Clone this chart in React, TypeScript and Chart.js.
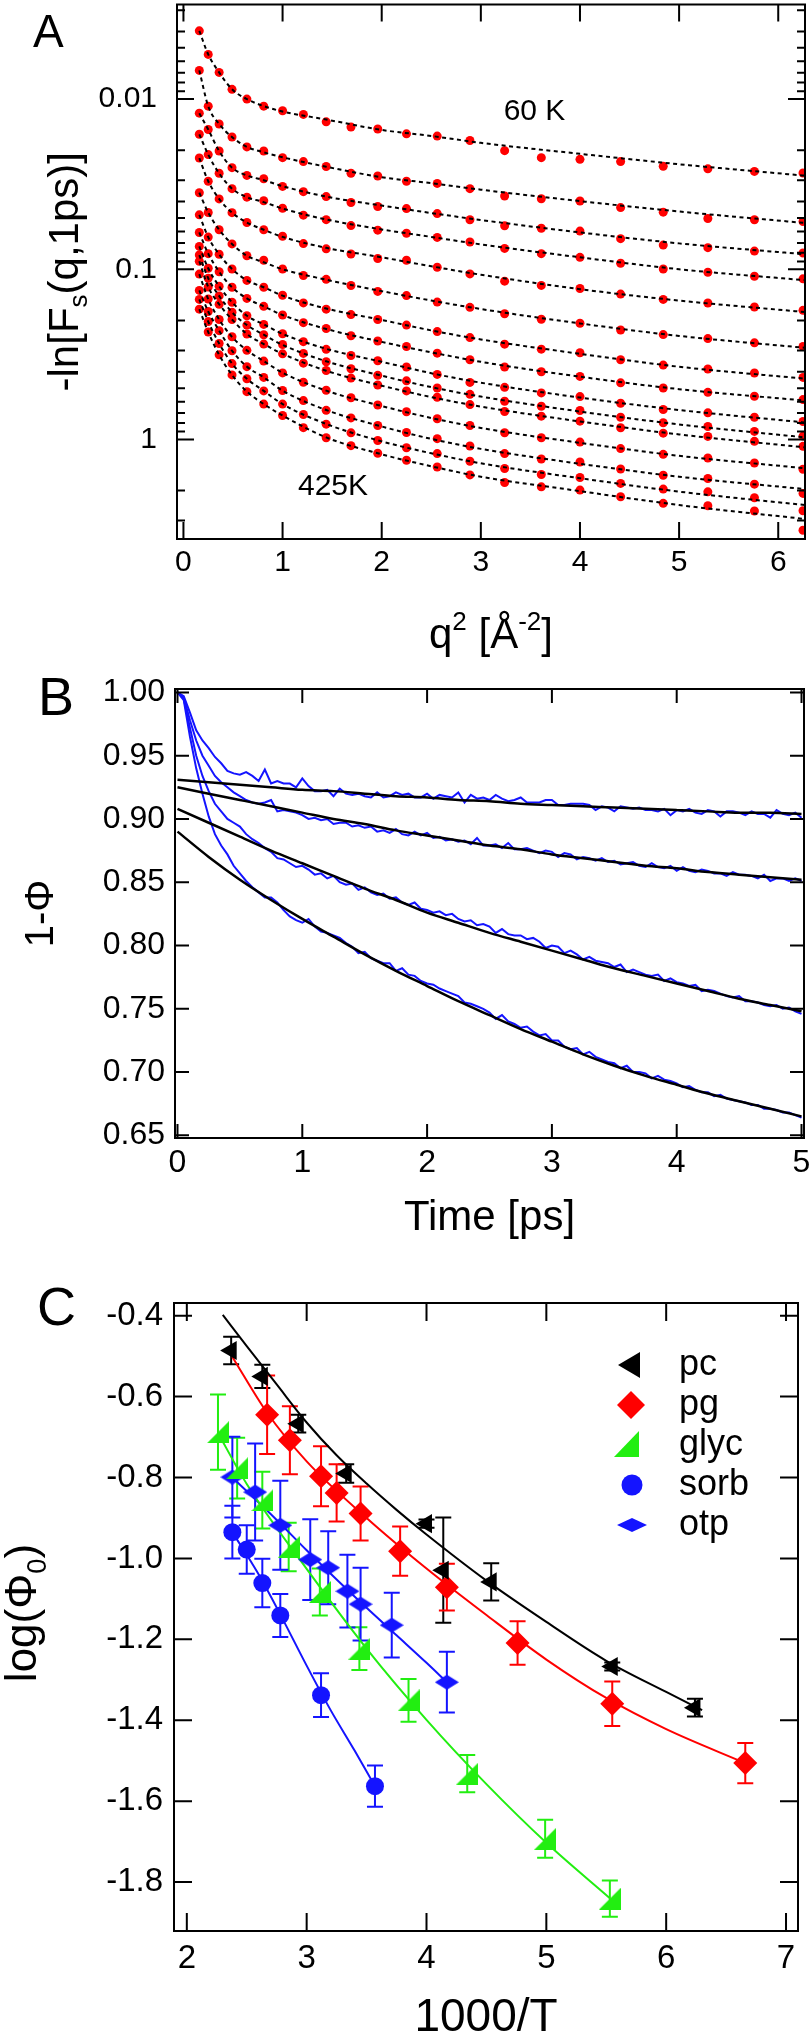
import React, { useEffect, useRef } from 'react';
import { Chart, registerables } from 'chart.js';

Chart.register(...registerables);

const FONT = '"Liberation Sans", Arial, Helvetica, sans-serif';
const RED = '#ff0000';
const BLUE = '#1414ff';
const GREEN = '#22ee11';

// ---------------- Panel A : -ln[Fs(q,1ps)] vs q^2 (measured points) ----------------
const A_Q2 = [0.16, 0.25, 0.36, 0.49, 0.64, 0.81, 1.0, 1.21, 1.44, 1.69, 1.96, 2.25, 2.56, 2.89, 3.24, 3.61, 4.0, 4.41, 4.84, 5.29, 5.76, 6.25];
const A_60K = [0.00397, 0.00546, 0.00697, 0.00876, 0.0100, 0.0110, 0.0117, 0.0123, 0.0136, 0.0146, 0.0150, 0.0160, 0.0165, 0.0175, 0.0201, 0.0221, 0.0226, 0.0233, 0.0248, 0.0257, 0.0266, 0.0272];
const A_T2 = [0.00678, 0.0110, 0.0140, 0.0167, 0.0191, 0.0202, 0.0221, 0.0233, 0.0249, 0.0273, 0.0283, 0.0304, 0.0313, 0.0336, 0.0371, 0.0385, 0.0397, 0.0434, 0.0462, 0.0503, 0.0512, 0.0524];
const A_T3 = [0.0121, 0.0151, 0.0202, 0.0253, 0.0281, 0.0294, 0.0326, 0.0350, 0.0374, 0.0405, 0.0428, 0.0440, 0.0471, 0.0512, 0.0555, 0.0574, 0.0597, 0.0661, 0.0721, 0.0747, 0.0782, 0.0803];
const A_T4 = [0.0161, 0.0212, 0.0273, 0.0336, 0.0377, 0.0396, 0.0438, 0.0481, 0.0511, 0.0554, 0.0589, 0.0614, 0.0650, 0.0692, 0.0754, 0.0810, 0.0851, 0.0922, 0.0996, 0.1041, 0.1099, 0.1139];
const A_T5 = [0.0222, 0.0304, 0.0386, 0.0465, 0.0531, 0.0586, 0.0640, 0.0707, 0.0759, 0.0814, 0.0865, 0.0886, 0.0973, 0.1065, 0.1175, 0.1245, 0.1297, 0.1400, 0.1504, 0.1580, 0.1668, 0.1744];
const A_T6 = [0.0355, 0.0464, 0.0586, 0.0710, 0.0833, 0.0886, 0.0996, 0.1089, 0.1146, 0.1247, 0.1350, 0.1429, 0.1560, 0.1675, 0.1826, 0.1969, 0.2077, 0.2274, 0.2422, 0.2556, 0.2708, 0.2847];
const A_T7 = [0.0479, 0.0647, 0.0817, 0.0996, 0.1163, 0.1276, 0.1421, 0.1577, 0.1716, 0.1848, 0.1974, 0.2129, 0.2326, 0.2522, 0.2757, 0.2949, 0.3098, 0.3406, 0.3658, 0.3860, 0.4073, 0.4322];
const A_T8 = [0.0608, 0.0810, 0.1034, 0.1276, 0.1484, 0.1652, 0.1858, 0.2061, 0.2231, 0.2461, 0.2640, 0.2847, 0.3112, 0.3406, 0.3757, 0.4002, 0.4264, 0.4653, 0.4985, 0.5289, 0.5581, 0.5835];
const A_T9 = [0.0734, 0.0987, 0.1259, 0.1562, 0.1876, 0.2109, 0.2393, 0.2665, 0.2957, 0.3214, 0.3451, 0.3752, 0.4151, 0.4624, 0.4945, 0.5332, 0.5603, 0.6133, 0.6677, 0.6981, 0.7406, 0.7847];
const A_T10 = [0.0825, 0.1130, 0.1435, 0.1789, 0.2129, 0.2426, 0.2768, 0.3124, 0.3499, 0.3845, 0.4202, 0.4530, 0.4985, 0.5434, 0.5970, 0.6387, 0.6767, 0.7406, 0.7986, 0.8395, 0.8979, 0.9565];
const A_T11 = [0.0898, 0.1271, 0.1606, 0.1974, 0.2403, 0.2753, 0.3141, 0.3565, 0.3934, 0.4363, 0.4787, 0.5190, 0.5656, 0.6242, 0.6860, 0.7306, 0.7816, 0.8543, 0.9188, 0.9604, 1.027, 1.099];
const A_T12 = [0.1068, 0.1497, 0.1974, 0.2495, 0.2997, 0.3466, 0.4068, 0.4617, 0.5141, 0.5695, 0.6284, 0.6877, 0.7566, 0.8281, 0.9137, 0.9774, 1.037, 1.133, 1.224, 1.286, 1.376, 1.497];
const A_T13 = [0.1332, 0.1772, 0.2295, 0.3013, 0.3736, 0.4322, 0.5163, 0.5914, 0.6748, 0.7476, 0.8293, 0.9112, 0.9906, 1.094, 1.212, 1.304, 1.357, 1.492, 1.624, 1.698, 1.833, 2.077];
const A_T14 = [0.1504, 0.2031, 0.2731, 0.3585, 0.4404, 0.5190, 0.6200, 0.7142, 0.8138, 0.9150, 1.015, 1.120, 1.212, 1.345, 1.484, 1.608, 1.675, 1.815, 1.960, 2.033, 2.204, 2.626];
const A_425K = [0.1716, 0.2339, 0.3184, 0.4180, 0.5240, 0.6200, 0.7238, 0.8531, 0.9774, 1.089, 1.207, 1.327, 1.452, 1.617, 1.792, 1.900, 1.987, 2.175, 2.377, 2.455, 2.637, 3.420];

// Panel A dashed fit curves
const A_FIT_Q2 = [0.16, 0.25, 0.36, 0.49, 0.64, 0.81, 1.0, 1.44, 2.0, 2.5, 3.0, 4.0, 5.0, 6.27];
const A_FIT_60K = [0.00397, 0.00546, 0.00697, 0.00876, 0.0100, 0.0110, 0.01183, 0.01318, 0.01518, 0.01646, 0.01808, 0.02097, 0.02415, 0.0282];
const A_FIT_T2 = [0.00678, 0.0110, 0.0140, 0.0167, 0.0191, 0.02055, 0.02198, 0.02499, 0.02878, 0.0312, 0.03406, 0.03977, 0.04579, 0.05347];
const A_FIT_T3 = [0.0121, 0.0151, 0.0202, 0.0253, 0.0281, 0.02997, 0.03249, 0.03742, 0.04224, 0.04674, 0.05134, 0.06076, 0.07047, 0.08172];
const A_FIT_T4 = [0.0161, 0.0212, 0.0273, 0.0336, 0.0377, 0.0403, 0.04398, 0.0510, 0.05835, 0.06456, 0.07142, 0.0851, 0.1000, 0.1160];
const A_FIT_T5 = [0.0222, 0.0304, 0.0386, 0.0465, 0.0531, 0.0586, 0.06456, 0.07486, 0.0851, 0.09605, 0.1077, 0.1309, 0.1528, 0.1785];
const A_FIT_T6 = [0.0355, 0.0464, 0.0586, 0.0710, 0.0833, 0.0910, 0.1000, 0.1152, 0.1345, 0.1528, 0.1713, 0.2083, 0.2465, 0.2897];
const A_FIT_T7 = [0.0479, 0.0647, 0.0817, 0.0996, 0.1163, 0.1276, 0.1429, 0.1702, 0.1987, 0.2289, 0.2584, 0.3141, 0.3742, 0.4398];
const A_FIT_T8 = [0.0608, 0.0810, 0.1034, 0.1276, 0.1484, 0.1652, 0.1858, 0.2243, 0.2673, 0.3078, 0.3499, 0.4281, 0.5066, 0.5914];
const A_FIT_T9 = [0.0734, 0.0987, 0.1259, 0.1562, 0.1876, 0.2109, 0.2399, 0.2936, 0.3499, 0.4084, 0.4642, 0.5679, 0.6722, 0.7954];
const A_FIT_T10 = [0.0825, 0.1130, 0.1435, 0.1789, 0.2129, 0.2426, 0.2783, 0.3475, 0.4224, 0.4932, 0.5603, 0.6860, 0.8172, 0.9734];
const A_FIT_T11 = [0.0898, 0.1271, 0.1606, 0.1974, 0.2403, 0.2753, 0.3141, 0.3950, 0.4833, 0.5642, 0.6412, 0.7847, 0.9350, 1.114];
const A_FIT_T12 = [0.1068, 0.1497, 0.1974, 0.2495, 0.2997, 0.3466, 0.4057, 0.5170, 0.6370, 0.7486, 0.8565, 1.048, 1.249, 1.478];
const A_FIT_T13 = [0.1332, 0.1772, 0.2295, 0.3013, 0.3736, 0.4322, 0.5170, 0.6722, 0.8395, 0.9933, 1.137, 1.391, 1.657, 1.960];
const A_FIT_T14 = [0.1504, 0.2031, 0.2731, 0.3585, 0.4404, 0.5190, 0.6200, 0.8118, 1.027, 1.207, 1.382, 1.691, 2.028, 2.432];
const A_FIT_425K = [0.1716, 0.2339, 0.3184, 0.4180, 0.5240, 0.6200, 0.7238, 0.9734, 1.224, 1.439, 1.657, 2.014, 2.432, 2.936];

const A_XTICKS = [0, 1, 2, 3, 4, 5, 6];
const A_YTICKS = [0.01, 0.1, 1];
const A_YMINOR = [0.003, 0.004, 0.005, 0.006, 0.007, 0.008, 0.009, 0.02, 0.03, 0.04, 0.05, 0.06, 0.07, 0.08, 0.09, 0.2, 0.3, 0.4, 0.5, 0.6, 0.7, 0.8, 0.9, 2, 3];

// ---------------- Panel B : 1-Phi vs time ----------------
const B_TIME = [0, 0.05, 0.1, 0.15, 0.2, 0.25, 0.3, 0.35, 0.4, 0.45, 0.5, 0.55, 0.6, 0.65, 0.7, 0.75, 0.8, 0.85, 0.9, 0.95,
  1, 1.05, 1.1, 1.15, 1.2, 1.25, 1.3, 1.35, 1.4, 1.45, 1.5, 1.55, 1.6, 1.65, 1.7, 1.75, 1.8, 1.85, 1.9, 1.95,
  2, 2.05, 2.1, 2.15, 2.2, 2.25, 2.3, 2.35, 2.4, 2.45, 2.5, 2.55, 2.6, 2.65, 2.7, 2.75, 2.8, 2.85, 2.9, 2.95,
  3, 3.05, 3.1, 3.15, 3.2, 3.25, 3.3, 3.35, 3.4, 3.45, 3.5, 3.55, 3.6, 3.65, 3.7, 3.75, 3.8, 3.85, 3.9, 3.95,
  4, 4.05, 4.1, 4.15, 4.2, 4.25, 4.3, 4.35, 4.4, 4.45, 4.5, 4.55, 4.6, 4.65, 4.7, 4.75, 4.8, 4.85, 4.9, 4.95, 5];
const B_SIM1 = [1.000, 0.997, 0.984, 0.970, 0.962, 0.956, 0.949, 0.944, 0.938, 0.936, 0.935, 0.937, 0.934, 0.930, 0.939, 0.928, 0.930, 0.928, 0.928, 0.925,
  0.932, 0.926, 0.922, 0.922, 0.923, 0.918, 0.924, 0.920, 0.919, 0.920, 0.918, 0.917, 0.921, 0.917, 0.918, 0.921, 0.919, 0.920, 0.917, 0.917,
  0.920, 0.916, 0.919, 0.918, 0.917, 0.921, 0.913, 0.919, 0.916, 0.917, 0.915, 0.919, 0.916, 0.914, 0.915, 0.917, 0.913, 0.913, 0.913, 0.915,
  0.915, 0.911, 0.911, 0.912, 0.912, 0.912, 0.911, 0.907, 0.910, 0.909, 0.906, 0.910, 0.909, 0.908, 0.909, 0.907, 0.907, 0.906, 0.908, 0.903,
  0.907, 0.906, 0.908, 0.905, 0.904, 0.907, 0.906, 0.902, 0.906, 0.906, 0.905, 0.903, 0.906, 0.904, 0.904, 0.901, 0.907, 0.904, 0.903, 0.905, 0.901];
const B_SIM2 = [1.000, 0.996, 0.978, 0.962, 0.950, 0.942, 0.934, 0.929, 0.925, 0.921, 0.918, 0.915, 0.913, 0.912, 0.913, 0.915, 0.906, 0.907, 0.906, 0.905,
  0.903, 0.900, 0.901, 0.899, 0.900, 0.896, 0.897, 0.897, 0.894, 0.895, 0.893, 0.894, 0.890, 0.891, 0.889, 0.892, 0.888, 0.887, 0.890, 0.887,
  0.889, 0.885, 0.886, 0.883, 0.884, 0.882, 0.883, 0.880, 0.885, 0.879, 0.879, 0.880, 0.877, 0.881, 0.876, 0.876, 0.877, 0.875, 0.873, 0.875,
  0.874, 0.870, 0.873, 0.872, 0.868, 0.870, 0.869, 0.867, 0.869, 0.866, 0.867, 0.864, 0.865, 0.866, 0.863, 0.862, 0.865, 0.862, 0.861, 0.863,
  0.859, 0.862, 0.859, 0.858, 0.860, 0.859, 0.857, 0.857, 0.855, 0.858, 0.856, 0.856, 0.855, 0.853, 0.856, 0.851, 0.853, 0.853, 0.851, 0.853, 0.851];
const B_SIM3 = [1.000, 0.995, 0.972, 0.950, 0.934, 0.922, 0.912, 0.906, 0.900, 0.897, 0.894, 0.888, 0.884, 0.881, 0.877, 0.874, 0.869, 0.868, 0.865, 0.862,
  0.863, 0.860, 0.856, 0.857, 0.853, 0.855, 0.850, 0.848, 0.849, 0.844, 0.846, 0.842, 0.840, 0.841, 0.837, 0.838, 0.834, 0.832, 0.834, 0.829,
  0.828, 0.826, 0.827, 0.824, 0.825, 0.821, 0.819, 0.820, 0.816, 0.817, 0.815, 0.810, 0.813, 0.809, 0.808, 0.808, 0.805, 0.806, 0.803, 0.798,
  0.800, 0.799, 0.794, 0.796, 0.793, 0.789, 0.791, 0.788, 0.787, 0.786, 0.783, 0.785, 0.779, 0.781, 0.779, 0.777, 0.776, 0.777, 0.772, 0.774,
  0.771, 0.770, 0.768, 0.769, 0.764, 0.765, 0.764, 0.762, 0.760, 0.759, 0.760, 0.756, 0.756, 0.755, 0.753, 0.752, 0.753, 0.750, 0.751, 0.748, 0.746];
const B_SIM4 = [1.000, 0.994, 0.965, 0.940, 0.920, 0.902, 0.888, 0.879, 0.872, 0.863, 0.857, 0.851, 0.846, 0.842, 0.838, 0.838, 0.834, 0.828, 0.823, 0.820,
  0.818, 0.821, 0.815, 0.811, 0.810, 0.808, 0.806, 0.802, 0.799, 0.794, 0.795, 0.790, 0.788, 0.786, 0.786, 0.780, 0.782, 0.777, 0.776, 0.772,
  0.770, 0.769, 0.766, 0.764, 0.762, 0.760, 0.755, 0.754, 0.752, 0.750, 0.747, 0.742, 0.745, 0.740, 0.738, 0.735, 0.736, 0.732, 0.729, 0.730,
  0.725, 0.725, 0.720, 0.718, 0.719, 0.714, 0.716, 0.712, 0.710, 0.708, 0.707, 0.703, 0.705, 0.700, 0.700, 0.699, 0.695, 0.697, 0.694, 0.693,
  0.691, 0.688, 0.689, 0.686, 0.684, 0.684, 0.681, 0.682, 0.679, 0.678, 0.677, 0.676, 0.674, 0.674, 0.671, 0.671, 0.670, 0.668, 0.668, 0.666, 0.664];
const B_FIT_T = [0, 0.25, 0.5, 0.75, 1, 1.25, 1.5, 1.75, 2, 2.25, 2.5, 2.75, 3, 3.25, 3.5, 3.75, 4, 4.25, 4.5, 4.75, 5];
const B_FIT1 = [0.931, 0.929, 0.927, 0.925, 0.923, 0.922, 0.920, 0.918, 0.917, 0.915, 0.914, 0.912, 0.911, 0.910, 0.909, 0.908, 0.907, 0.906, 0.905, 0.905, 0.904];
const B_FIT2 = [0.925, 0.920, 0.915, 0.910, 0.905, 0.900, 0.896, 0.891, 0.887, 0.883, 0.879, 0.876, 0.872, 0.869, 0.866, 0.863, 0.861, 0.858, 0.856, 0.854, 0.852];
const B_FIT3 = [0.908, 0.897, 0.886, 0.875, 0.865, 0.855, 0.845, 0.836, 0.826, 0.818, 0.810, 0.803, 0.796, 0.789, 0.782, 0.776, 0.770, 0.764, 0.758, 0.753, 0.748];
const B_FIT4 = [0.890, 0.870, 0.852, 0.836, 0.821, 0.807, 0.793, 0.780, 0.768, 0.756, 0.745, 0.734, 0.724, 0.714, 0.705, 0.697, 0.690, 0.683, 0.677, 0.671, 0.665];
const B_XTICKS = [0, 1, 2, 3, 4, 5];
const B_YTICKS = [0.65, 0.70, 0.75, 0.80, 0.85, 0.90, 0.95, 1.00];

// ---------------- Panel C : log(Phi0) vs 1000/T ----------------
const PC_X = [2.37, 2.63, 2.93, 3.33, 4.00, 4.14, 4.54, 5.55, 6.24];
const PC_Y = [-0.486, -0.550, -0.667, -0.790, -0.914, -1.029, -1.058, -1.267, -1.369];
const PC_ERR = [0.034, 0.029, 0.022, 0.023, 0.010, 0.130, 0.046, 0.010, 0.022];
const PC_FIT_X = [2.30, 2.50, 2.75, 3.00, 3.25, 3.50, 3.75, 4.00, 4.50, 5.00, 5.50, 6.00, 6.30];
const PC_FIT_Y = [-0.398, -0.475, -0.570, -0.664, -0.745, -0.815, -0.880, -0.941, -1.055, -1.157, -1.253, -1.330, -1.375];

const PG_X = [2.67, 2.86, 3.12, 3.25, 3.45, 3.78, 4.17, 4.76, 5.55, 6.66];
const PG_Y = [-0.645, -0.708, -0.797, -0.838, -0.889, -0.982, -1.071, -1.209, -1.359, -1.506];
const PG_ERR = [0.097, 0.084, 0.074, 0.071, 0.067, 0.061, 0.058, 0.054, 0.055, 0.050];
const PG_FIT_X = [2.38, 2.67, 3.00, 3.50, 4.00, 4.50, 5.00, 5.50, 6.00, 6.66];
const PG_FIT_Y = [-0.502, -0.640, -0.760, -0.900, -1.025, -1.140, -1.250, -1.345, -1.422, -1.506];

const GLYC_X = [2.26, 2.42, 2.63, 2.85, 3.11, 3.44, 3.85, 4.34, 4.99, 5.53];
const GLYC_Y = [-0.688, -0.777, -0.856, -0.972, -1.083, -1.223, -1.351, -1.532, -1.693, -1.841];
const GLYC_ERR = [0.093, 0.075, 0.070, 0.060, 0.058, 0.053, 0.053, 0.046, 0.047, 0.045];
const GLYC_FIT_X = [2.26, 2.50, 3.00, 3.50, 4.00, 4.50, 5.00, 5.53];
const GLYC_FIT_Y = [-0.690, -0.816, -1.026, -1.223, -1.399, -1.558, -1.703, -1.840];

const SORB_X = [2.38, 2.50, 2.63, 2.78, 3.12, 3.57];
const SORB_Y = [-0.935, -0.978, -1.061, -1.141, -1.338, -1.563];
const SORB_ERR = [0.065, 0.060, 0.060, 0.053, 0.054, 0.051];
const SORB_FIT_X = [2.38, 2.60, 2.80, 3.00, 3.20, 3.40, 3.57];
const SORB_FIT_Y = [-0.935, -1.040, -1.150, -1.265, -1.375, -1.475, -1.563];

const OTP_X = [2.38, 2.57, 2.78, 3.03, 3.18, 3.34, 3.45, 3.71, 4.17];
const OTP_Y = [-0.799, -0.836, -0.918, -1.003, -1.023, -1.081, -1.113, -1.165, -1.306];
const OTP_ERR = [0.100, 0.120, 0.110, 0.100, 0.090, 0.090, 0.090, 0.080, 0.075];
const OTP_FIT_X = [2.38, 2.75, 3.00, 3.25, 3.50, 3.75, 4.00, 4.17];
const OTP_FIT_Y = [-0.800, -0.905, -0.980, -1.052, -1.122, -1.190, -1.258, -1.306];

const C_XTICKS = [2, 3, 4, 5, 6, 7];
const C_YTICKS = [-1.8, -1.6, -1.4, -1.2, -1.0, -0.8, -0.6, -0.4];
const C_LEGEND = ['pc', 'pg', 'glyc', 'sorb', 'otp'];

// ---------------- helpers ----------------
type Seg = { t: string; sub?: boolean; sup?: boolean };

function drawRich(ctx: CanvasRenderingContext2D, segs: Seg[], size: number, x: number, y: number, align: 'left' | 'center' = 'center', rot = 0) {
  ctx.save();
  ctx.translate(x, y);
  if (rot) ctx.rotate(rot);
  ctx.fillStyle = '#000';
  ctx.textAlign = 'left';
  ctx.textBaseline = 'alphabetic';
  const sizes = segs.map((s) => (s.sub || s.sup ? size * 0.62 : size));
  const widths = segs.map((s, i) => {
    ctx.font = `${sizes[i]}px ${FONT}`;
    return ctx.measureText(s.t).width;
  });
  const total = widths.reduce((a, b) => a + b, 0);
  let cx = align === 'center' ? -total / 2 : 0;
  segs.forEach((s, i) => {
    ctx.font = `${sizes[i]}px ${FONT}`;
    const dy = s.sub ? size * 0.22 : s.sup ? -size * 0.42 : 0;
    ctx.fillText(s.t, cx, dy);
    cx += widths[i];
  });
  ctx.restore();
}

function drawLetter(ctx: CanvasRenderingContext2D, t: string, x: number, y: number, size: number) {
  ctx.save();
  ctx.fillStyle = '#000';
  ctx.font = `${size}px ${FONT}`;
  ctx.textAlign = 'left';
  ctx.textBaseline = 'alphabetic';
  ctx.fillText(t, x, y);
  ctx.restore();
}

type FrameSpec = {
  xMajor: number[];
  yMajor: number[];
  yMinor?: number[];
  len: number;
  minorLen?: number;
  before?: (c: any) => void;
  extra?: (c: any) => void;
};

function framePlugin(id: string, spec: FrameSpec) {
  return {
    id,
    beforeDatasetsDraw(chart: any) {
      if (spec.before) spec.before(chart);
    },
    afterDraw(chart: any) {
      const ctx = chart.ctx as CanvasRenderingContext2D;
      const a = chart.chartArea;
      const xs = chart.scales.x;
      const ys = chart.scales.y;
      ctx.save();
      ctx.strokeStyle = '#000';
      ctx.lineWidth = 2;
      ctx.beginPath();
      spec.xMajor.forEach((v) => {
        const p = xs.getPixelForValue(v);
        ctx.moveTo(p, a.bottom);
        ctx.lineTo(p, a.bottom - spec.len);
        ctx.moveTo(p, a.top);
        ctx.lineTo(p, a.top + spec.len);
      });
      const yt = (v: number, L: number) => {
        const p = ys.getPixelForValue(v);
        ctx.moveTo(a.left, p);
        ctx.lineTo(a.left + L, p);
        ctx.moveTo(a.right, p);
        ctx.lineTo(a.right - L, p);
      };
      spec.yMajor.forEach((v) => yt(v, spec.len));
      (spec.yMinor || []).forEach((v) => yt(v, spec.minorLen || spec.len / 2));
      ctx.stroke();
      ctx.strokeRect(a.left, a.top, a.right - a.left, a.bottom - a.top);
      ctx.restore();
      if (spec.extra) spec.extra(chart);
    },
  };
}

function axis(opts: any) {
  const { size, padding, ticks, width, height, callback, ...rest } = opts;
  const o: any = {
    ...rest,
    grid: { display: false, drawTicks: false },
    border: { display: false },
    ticks: {
      color: '#000',
      font: { family: FONT, size },
      padding,
      autoSkip: false,
      maxRotation: 0,
      callback,
    },
    afterBuildTicks: (s: any) => {
      s.ticks = ticks.map((value: number) => ({ value }));
    },
  };
  if (width !== undefined) {
    o.afterFit = (s: any) => {
      s.width = width;
      s.paddingTop = 0;
      s.paddingBottom = 0;
    };
  } else {
    o.afterFit = (s: any) => {
      s.height = height;
      s.paddingLeft = 0;
      s.paddingRight = 0;
    };
  }
  return o;
}

const baseOptions = (padding: any) => ({
  responsive: false,
  animation: false as const,
  devicePixelRatio: 1,
  events: [] as any[],
  layout: { padding },
  plugins: { legend: { display: false }, tooltip: { enabled: false } },
});

function xy(xs: number[], ys: number[]) {
  return xs.map((x, i) => ({ x, y: ys[i] }));
}

function makeGlyc(size: number, color: string) {
  const c = document.createElement('canvas');
  c.width = size;
  c.height = size;
  const g = c.getContext('2d')!;
  g.fillStyle = color;
  g.beginPath();
  g.moveTo(0, size);
  g.lineTo(size, size);
  g.lineTo(size, 0);
  g.closePath();
  g.fill();
  return c;
}

function makeFlatDiamond(w: number, h: number, color: string) {
  const c = document.createElement('canvas');
  c.width = w;
  c.height = h;
  const g = c.getContext('2d')!;
  g.fillStyle = color;
  g.beginPath();
  g.moveTo(0, h / 2);
  g.lineTo(w / 2, 0);
  g.lineTo(w, h / 2);
  g.lineTo(w / 2, h);
  g.closePath();
  g.fill();
  return c;
}

// ---------------- charts ----------------
function buildA(canvas: HTMLCanvasElement) {
  const curves = [A_60K, A_T2, A_T3, A_T4, A_T5, A_T6, A_T7, A_T8, A_T9, A_T10, A_T11, A_T12, A_T13, A_T14, A_425K];
  const fits = [A_FIT_60K, A_FIT_T2, A_FIT_T3, A_FIT_T4, A_FIT_T5, A_FIT_T6, A_FIT_T7, A_FIT_T8, A_FIT_T9, A_FIT_T10, A_FIT_T11, A_FIT_T12, A_FIT_T13, A_FIT_T14, A_FIT_425K];
  const datasets: any[] = [];
  fits.forEach((f) => {
    datasets.push({
      data: xy(A_FIT_Q2, f),
      showLine: true,
      borderColor: '#000',
      borderWidth: 2,
      borderDash: [4, 3.5],
      pointRadius: 0,
      cubicInterpolationMode: 'monotone',
      order: 0,
    });
  });
  curves.forEach((vals) => {
    datasets.push({
      data: xy(A_Q2, vals),
      showLine: false,
      pointRadius: 4.5,
      pointBackgroundColor: RED,
      pointBorderWidth: 0,
      order: 1,
    });
  });
  return new Chart(canvas, {
    type: 'scatter',
    data: { datasets },
    options: {
      ...baseOptions({ top: 2, right: 5, left: 0, bottom: 0 }),
      scales: {
        x: axis({ type: 'linear', min: -0.065, max: 6.27, size: 30, padding: 6, ticks: A_XTICKS, height: 131, callback: (v: any) => String(v) }),
        y: axis({ type: 'logarithmic', reverse: true, min: 0.00278, max: 3.85, size: 30, padding: 20, ticks: A_YTICKS, width: 177, callback: (v: any) => String(v) }),
      },
    },
    plugins: [
      framePlugin('frameA', {
        xMajor: A_XTICKS,
        yMajor: A_YTICKS,
        yMinor: A_YMINOR,
        len: 17,
        minorLen: 8,
        extra: (chart) => {
          const ctx = chart.ctx;
          const a = chart.chartArea;
          const xs = chart.scales.x;
          const ys = chart.scales.y;
          ctx.save();
          ctx.fillStyle = '#000';
          ctx.font = `30px ${FONT}`;
          ctx.textAlign = 'left';
          ctx.textBaseline = 'alphabetic';
          ctx.fillText('60 K', xs.getPixelForValue(3.23), ys.getPixelForValue(0.0133));
          ctx.fillText('425K', xs.getPixelForValue(1.155), ys.getPixelForValue(2.13));
          ctx.restore();
          drawLetter(ctx, 'A', 33, 47, 46);
          drawRich(ctx, [{ t: 'q' }, { t: '2', sup: true }, { t: ' [Å' }, { t: '-2', sup: true }, { t: ']' }], 42, (a.left + a.right) / 2, 648);
          drawRich(ctx, [{ t: '-ln[F' }, { t: 's', sub: true }, { t: '(q,1ps)]' }], 42, 78, (a.top + a.bottom) / 2, 'center', -Math.PI / 2);
        },
      }),
    ],
  } as any);
}

function buildB(canvas: HTMLCanvasElement) {
  const sims = [B_SIM1, B_SIM2, B_SIM3, B_SIM4];
  const fits = [B_FIT1, B_FIT2, B_FIT3, B_FIT4];
  const datasets: any[] = [];
  fits.forEach((f) => {
    datasets.push({
      data: xy(B_FIT_T, f),
      showLine: true,
      borderColor: '#000',
      borderWidth: 2.5,
      pointRadius: 0,
      cubicInterpolationMode: 'monotone',
      order: 0,
    });
  });
  sims.forEach((s) => {
    datasets.push({
      data: xy(B_TIME, s),
      showLine: true,
      borderColor: BLUE,
      borderWidth: 2,
      pointRadius: 0,
      tension: 0,
      order: 1,
    });
  });
  return new Chart(canvas, {
    type: 'scatter',
    data: { datasets },
    options: {
      ...baseOptions({ top: 19, right: 6, left: 0, bottom: 0 }),
      scales: {
        x: axis({ type: 'linear', min: -0.02, max: 5.02, size: 32, padding: 6, ticks: B_XTICKS, height: 102, callback: (v: any) => String(v) }),
        y: axis({ type: 'linear', min: 0.6479, max: 1.0027, size: 32, padding: 10, ticks: B_YTICKS, width: 175, callback: (v: any) => Number(v).toFixed(2) }),
      },
    },
    plugins: [
      framePlugin('frameB', {
        xMajor: B_XTICKS,
        yMajor: B_YTICKS,
        len: 14,
        extra: (chart) => {
          const ctx = chart.ctx;
          const a = chart.chartArea;
          drawLetter(ctx, 'B', 38, 45, 54);
          drawRich(ctx, [{ t: 'Time [ps]' }], 42, (a.left + a.right) / 2, 560);
          drawRich(ctx, [{ t: '1-Φ' }], 40, 53, (a.top + a.bottom) / 2, 'center', -Math.PI / 2);
        },
      }),
    ],
  } as any);
}

function buildC(canvas: HTMLCanvasElement) {
  const glycImg = makeGlyc(22, GREEN);
  const otpImg = makeFlatDiamond(24, 15, BLUE);
  const series = [
    { x: PC_X, y: PC_Y, err: PC_ERR, fx: PC_FIT_X, fy: PC_FIT_Y, color: '#000', style: 'triangle', radius: 11, rot: -90 },
    { x: PG_X, y: PG_Y, err: PG_ERR, fx: PG_FIT_X, fy: PG_FIT_Y, color: RED, style: 'rectRot', radius: 12, rot: 0 },
    { x: GLYC_X, y: GLYC_Y, err: GLYC_ERR, fx: GLYC_FIT_X, fy: GLYC_FIT_Y, color: GREEN, style: glycImg, radius: 11, rot: 0 },
    { x: SORB_X, y: SORB_Y, err: SORB_ERR, fx: SORB_FIT_X, fy: SORB_FIT_Y, color: BLUE, style: 'circle', radius: 9, rot: 0 },
    { x: OTP_X, y: OTP_Y, err: OTP_ERR, fx: OTP_FIT_X, fy: OTP_FIT_Y, color: BLUE, style: otpImg, radius: 11, rot: 0 },
  ];
  const datasets: any[] = [];
  series.forEach((s) => {
    datasets.push({
      data: xy(s.fx, s.fy),
      showLine: true,
      borderColor: s.color,
      borderWidth: 2,
      pointRadius: 0,
      cubicInterpolationMode: 'monotone',
      order: 1,
    });
    datasets.push({
      data: xy(s.x, s.y),
      showLine: false,
      pointStyle: s.style,
      pointRadius: s.radius,
      pointRotation: s.rot,
      pointBackgroundColor: s.color,
      pointBorderColor: s.color,
      pointBorderWidth: 0,
      order: 0,
    });
  });
  return new Chart(canvas, {
    type: 'scatter',
    data: { datasets },
    options: {
      ...baseOptions({ top: 63, right: 3, left: 0, bottom: 0 }),
      scales: {
        x: axis({ type: 'linear', min: 1.893, max: 7.10, size: 33, padding: 8.5, ticks: C_XTICKS, height: 102, callback: (v: any) => String(v) }),
        y: axis({ type: 'linear', min: -1.921, max: -0.3686, size: 33, padding: 11, ticks: C_YTICKS, width: 174, callback: (v: any) => Number(v).toFixed(1) }),
      },
    },
    plugins: [
      framePlugin('frameC', {
        xMajor: C_XTICKS,
        yMajor: C_YTICKS,
        len: 18,
        before: (chart) => {
          const ctx = chart.ctx;
          const xs = chart.scales.x;
          const ys = chart.scales.y;
          ctx.save();
          ctx.lineWidth = 2;
          series.forEach((s) => {
            ctx.strokeStyle = s.color;
            ctx.beginPath();
            s.x.forEach((xv, i) => {
              const px = xs.getPixelForValue(xv);
              const t = ys.getPixelForValue(s.y[i] + s.err[i]);
              const b = ys.getPixelForValue(s.y[i] - s.err[i]);
              ctx.moveTo(px, t);
              ctx.lineTo(px, b);
              ctx.moveTo(px - 8, t);
              ctx.lineTo(px + 8, t);
              ctx.moveTo(px - 8, b);
              ctx.lineTo(px + 8, b);
            });
            ctx.stroke();
          });
          ctx.restore();
        },
        extra: (chart) => {
          const ctx = chart.ctx as CanvasRenderingContext2D;
          const a = chart.chartArea;
          drawLetter(ctx, 'C', 37, 85, 54);
          drawRich(ctx, [{ t: '1000/T' }], 46, (a.left + a.right) / 2, 791);
          drawRich(ctx, [{ t: 'log(Φ' }, { t: '0', sub: true }, { t: ')' }], 44, 36, 373, 'center', -Math.PI / 2);
          // legend
          const mx = a.right - 167;
          const tx = a.right - 119;
          ctx.save();
          C_LEGEND.forEach((label, i) => {
            const cy = a.top + 62 + i * 40;
            ctx.fillStyle = series[i].color;
            ctx.beginPath();
            if (i === 0) {
              ctx.moveTo(mx + 9, cy - 13);
              ctx.lineTo(mx + 9, cy + 13);
              ctx.lineTo(mx - 13, cy);
            } else if (i === 1) {
              ctx.moveTo(mx, cy - 14);
              ctx.lineTo(mx + 14, cy);
              ctx.lineTo(mx, cy + 14);
              ctx.lineTo(mx - 14, cy);
            } else if (i === 2) {
              ctx.moveTo(mx - 17, cy + 12);
              ctx.lineTo(mx + 8, cy + 12);
              ctx.lineTo(mx + 8, cy - 14);
            } else if (i === 3) {
              ctx.arc(mx + 1, cy, 10.5, 0, Math.PI * 2);
            } else {
              ctx.moveTo(mx - 14, cy);
              ctx.lineTo(mx + 1, cy - 7);
              ctx.lineTo(mx + 16, cy);
              ctx.lineTo(mx + 1, cy + 7);
            }
            ctx.closePath();
            ctx.fill();
            ctx.fillStyle = '#000';
            ctx.font = `36px ${FONT}`;
            ctx.textAlign = 'left';
            ctx.textBaseline = 'alphabetic';
            ctx.fillText(label, tx, cy + 10);
          });
          ctx.restore();
        },
      }),
    ],
  } as any);
}

export default function App() {
  const refA = useRef<HTMLCanvasElement>(null);
  const refB = useRef<HTMLCanvasElement>(null);
  const refC = useRef<HTMLCanvasElement>(null);

  useEffect(() => {
    const charts = [buildA(refA.current!), buildB(refB.current!), buildC(refC.current!)];
    return () => charts.forEach((c) => c.destroy());
  }, []);

  const cs = (h: number) => ({ display: 'block', width: 810, height: h });
  return (
    <div style={{ position: 'absolute', left: 0, top: 0, width: 810, height: 2033, background: '#fff', overflow: 'hidden' }}>
      <canvas ref={refA} width={810} height={670} style={cs(670)} />
      <canvas ref={refB} width={810} height={570} style={cs(570)} />
      <canvas ref={refC} width={810} height={793} style={cs(793)} />
    </div>
  );
}
